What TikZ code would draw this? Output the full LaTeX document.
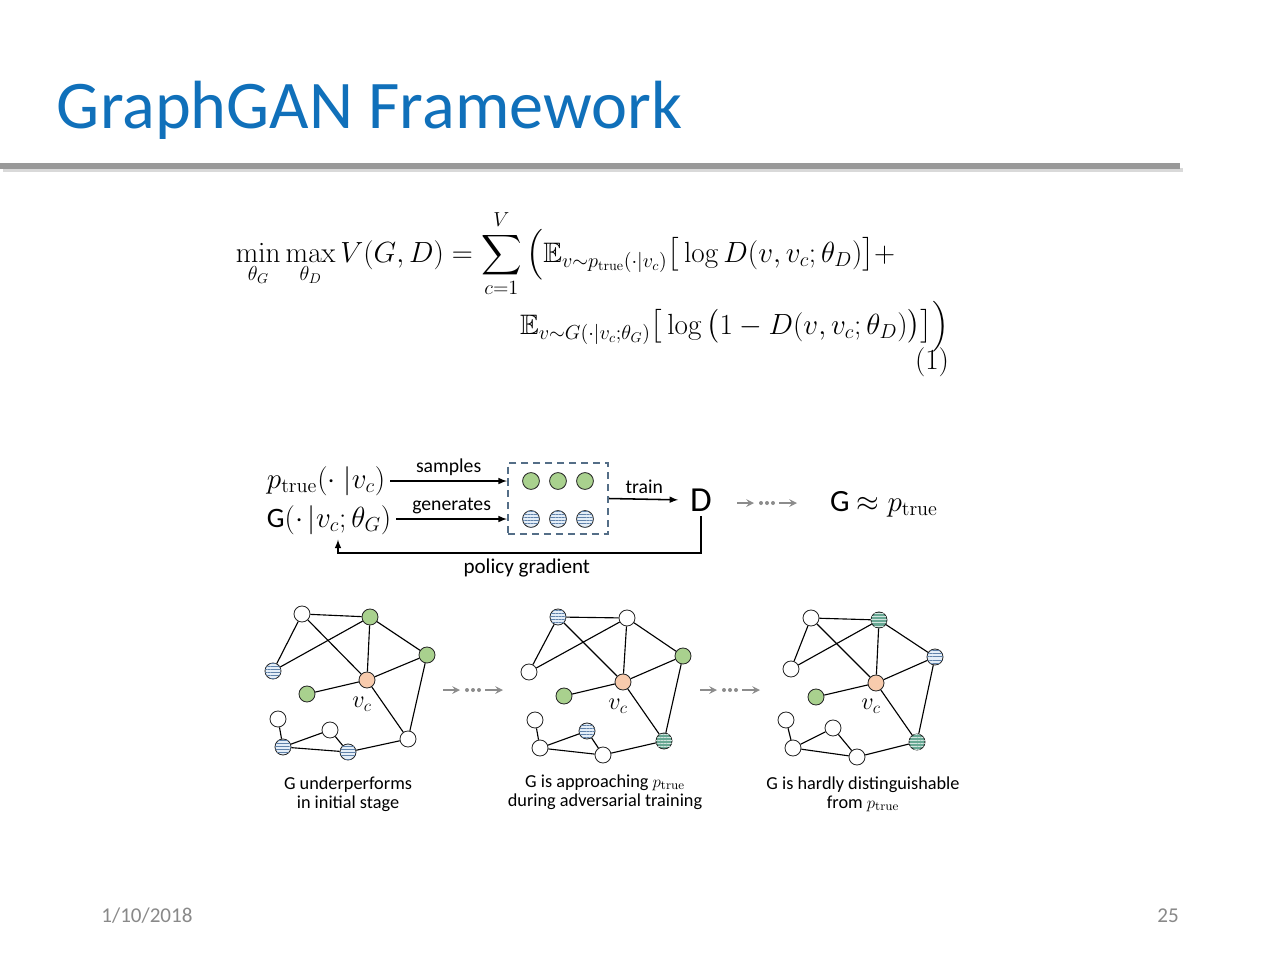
\documentclass[tikz,border=0pt]{standalone}
\usepackage{amsmath}
\usepackage{amssymb}
\usepackage[no-math]{fontspec}
\setmainfont{Carlito}
\usetikzlibrary{patterns.meta}
\definecolor{titleblue}{RGB}{16,112,186}
\definecolor{sampgreen}{RGB}{169,209,142}
\definecolor{centreorange}{RGB}{248,203,173}
\definecolor{stripeblue}{RGB}{228,238,248}
\definecolor{stripeline}{RGB}{96,130,170}
\definecolor{darkstripe}{RGB}{104,168,148}
\definecolor{boxblue}{RGB}{84,110,135}
\definecolor{footgray}{RGB}{137,137,137}
\tikzset{vert/.style= {draw=black!85, circle, inner sep=0pt, minimum size=0.4cm, line width=0.6pt},
         real/.style= {vert, fill=sampgreen},
         centre/.style= {vert, fill=centreorange},
         plain/.style= {vert, fill=white},
         fake/.style= {vert, fill=stripeblue, postaction={pattern={Lines[angle=0,distance=2.2pt,line width=0.5pt]}, pattern color=stripeline}},
         fakeok/.style= {vert, fill=darkstripe, postaction={pattern={Lines[angle=0,distance=2.2pt,line width=0.5pt]}, pattern color=white!70!darkstripe}},
         link/.style= {line width=0.8pt},
         flow/.style= {-latex, line width=1.1pt},
         skiparrow/.style= {->, >=stealth, line width=1.4pt, black!45},
         caption/.style= {align=center, font=\fontsize{13}{13.5}\selectfont}}
\newcommand{\skipahead}[2]{%
  \draw[skiparrow](#1,#2)--(#1+17,#2);
  \foreach \d in {0,6,12}
    \fill[black!45](#1+24+\d,#2) circle (2);
  \draw[skiparrow](#1+42,#2)--(#1+60,#2);}

\begin{document}
\begin{tikzpicture}[x=0.025cm, y=-0.025cm]
        \useasboundingbox (0,0) rectangle (1280,960);
        \fill[white] (0,0) rectangle (1280,960);

        % title and rule
        \node[anchor=base west, text=titleblue, font=\fontsize{48.5}{58}\selectfont](title)at(52,128){GraphGAN Framework};
        \draw[line width=3pt, black!15](3,170)--(1183,170);
        \draw[line width=3.6pt, black!40](0,166)--(1180,166);

        % objective
        \node[anchor=base west, font=\fontsize{20}{24}\selectfont](eqtop)at(231,262){$\displaystyle
            \min_{\theta_G}\max_{\theta_D}V(G,D)=\sum_{c=1}^{V}\Big(\mathbb{E}_{v\sim p_{\mathrm{true}}(\cdot|v_c)}\big[\log D(v,v_c;\theta_D)\big]+$};
        \node[anchor=base east, font=\fontsize{20}{24}\selectfont](eqbot)at(954,334){$\displaystyle
            \mathbb{E}_{v\sim G(\cdot|v_c;\theta_G)}\big[\log\big(1-D(v,v_c;\theta_D)\big)\big]\Big)$};
        \node[anchor=base east, font=\fontsize{20}{24}\selectfont](eqnum)at(954,369){$(1)$};

        % training loop
        \node[anchor=west, font=\fontsize{20}{24}\selectfont](ptrue)at(262,481){$p_{\mathrm{true}}(\cdot\;|v_c)$};
        \node[anchor=west, font=\fontsize{20}{24}\selectfont](gen)at(262,520){G$(\cdot\,|v_c;\theta_G)$};
        \node[draw=boxblue, dashed, dash pattern=on 5pt off 3.5pt, line width=1.4pt, minimum width=2.5cm, minimum height=1.78cm](pool)at(558,498.5){};
        \node[real, minimum size=0.42cm](s1)at(531,481){};
        \node[real, minimum size=0.42cm](s2)at(558,481){};
        \node[real, minimum size=0.42cm](s3)at(585,481){};
        \node[fake, minimum size=0.42cm](f1)at(531,519){};
        \node[fake, minimum size=0.42cm](f2)at(558,519){};
        \node[fake, minimum size=0.42cm](f3)at(585,519){};
        \node[font=\fontsize{25}{30}\selectfont](disc)at(701,500){D};
        \node[font=\fontsize{22}{26}\selectfont](approx)at(884,504){G $\approx p_{\mathrm{true}}$};
        \coordinate(pgcorner)at(338,553);

        \draw[flow](ptrue.east)--(ptrue.east -| pool.west) node[midway, above, font=\fontsize{14}{16}\selectfont]{samples};
        \draw[flow](gen.east|-f1)--(f1 -| pool.west) node[midway, above, font=\fontsize{14}{16}\selectfont]{generates};
        \draw[flow, shorten >=5pt](pool.east)--(disc.west) node[midway, above, xshift=-2pt, font=\fontsize{14}{16}\selectfont]{train};
        \draw[flow](disc.south)|-(pgcorner) node[pos=0.74, below, font=\fontsize{15}{17}\selectfont]{policy gradient}
            --(pgcorner|-gen.south);
        \skipahead{737}{503}

        % stage 1
        \node[plain](g1a)at(302,614){};
        \node[real](g1b)at(370,617){};
        \node[real](g1c)at(427,655){};
        \node[fake](g1d)at(273,671){};
        \node[centre](g1vc)at(367,680){};
        \node[real](g1e)at(307,694){};
        \node[plain](g1f)at(278,719){};
        \node[plain](g1g)at(330,730){};
        \node[fake](g1h)at(283,747){};
        \node[fake](g1i)at(348,752){};
        \node[plain](g1j)at(408,739){};
        \node[font=\fontsize{18}{20}\selectfont]at(362,704){$v_c$};
        \node[caption](cap1)at(348,794){G underperforms\\in initial stage};

        % stage 2
        \node[fake](g2a)at(558,617){};
        \node[plain](g2b)at(627,618){};
        \node[real](g2c)at(683,656){};
        \node[plain](g2d)at(529,672){};
        \node[centre](g2vc)at(623,682){};
        \node[real](g2e)at(564,696){};
        \node[plain](g2f)at(535,720){};
        \node[fake](g2g)at(587,731){};
        \node[plain](g2h)at(540,748){};
        \node[plain](g2i)at(603,755){};
        \node[fakeok](g2j)at(664,741){};
        \node[font=\fontsize{18}{20}\selectfont]at(618,706){$v_c$};
        \node[caption](cap2)at(605,792){G is approaching $p_{\mathrm{true}}$\\during adversarial training};

        % stage 3
        \node[plain](g3a)at(811,618){};
        \node[fakeok](g3b)at(879,620){};
        \node[fake](g3c)at(935,657){};
        \node[plain](g3d)at(791,669){};
        \node[centre](g3vc)at(876,683){};
        \node[real](g3e)at(816,697){};
        \node[plain](g3f)at(786,720){};
        \node[plain](g3g)at(833,728){};
        \node[plain](g3h)at(793,748){};
        \node[plain](g3i)at(857,757){};
        \node[fakeok](g3j)at(917,742){};
        \node[font=\fontsize{18}{20}\selectfont]at(871,706){$v_c$};
        \node[caption](cap3)at(863,794){G is hardly distinguishable\\from $p_{\mathrm{true}}$};

        \foreach \g in {g1,g2,g3}
            \foreach \a/\b in {a/b,a/d,a/vc,b/d,b/vc,b/c,c/vc,c/j,vc/e,vc/j,f/h,h/g,g/i,h/i,i/j}
                \draw[link](\g\a)--(\g\b);

        \skipahead{443}{690}
        \skipahead{700}{690}

        % footer
        \node[text=footgray, font=\fontsize{15}{18}\selectfont](date)at(147,916){1/10/2018};
        \node[text=footgray, font=\fontsize{15}{18}\selectfont](page)at(1168,916){25};
    \end{tikzpicture}
\end{document}
